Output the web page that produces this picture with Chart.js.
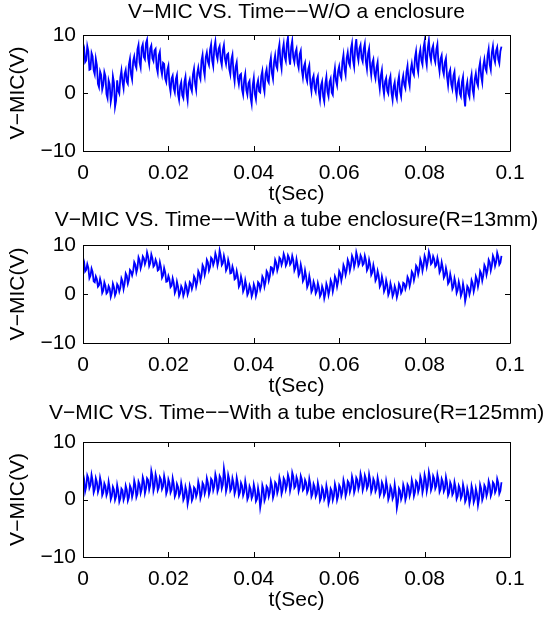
<!DOCTYPE html>
<html>
<head>
<meta charset="utf-8">
<script src="https://cdn.jsdelivr.net/npm/chart.js@4.4.1/dist/chart.umd.min.js"></script>
<style>
  html, body { margin: 0; padding: 0; background: #fff; }
  #figure { position: relative; width: 555px; height: 622px; overflow: hidden; }
  #figure canvas { position: absolute; left: 0; }
</style>
</head>
<body>
<div id="figure"></div>
<script>
const timeStep = 0.00025 // шаг отсчётов, сек

// V-MIC, без корпуса
const vNoEnclosure = [
  8.6, 7.9, 5.3, 5.6, 8.1, 7.2, 4.0, 4.1, 6.9, 6.3,
  3.9, 3.2, 5.9, 4.8, 1.6, 1.0, 3.7, 3.1, 0.6, 1.4,
  3.6, 2.9, -0.2, -0.9, 2.2, 1.5, -1.5, -0.4, 2.9, 1.8,
  -2.4, -1.3, 2.2, 0.4, -0.1, 2.7, 3.9, 1.9, 0.8, 3.3,
  4.0, 2.0, 1.6, 4.9, 5.9, 3.2, 2.3, 5.5, 6.3, 4.8,
  4.3, 7.5, 8.3, 5.3, 4.4, 7.8, 8.4, 6.2, 5.8, 8.6,
  9.2, 6.0, 4.9, 7.7, 8.2, 6.0, 5.5, 7.3, 7.6, 4.4,
  3.5, 6.5, 7.1, 4.2, 3.2, 5.2, 5.0, 2.5, 1.9, 4.0,
  4.7, 1.4, 0.2, 2.5, 3.0, 0.8, 0.1, 2.4, 3.1, -0.2,
  -1.2, 1.2, 1.9, -0.4, -0.9, 1.9, 2.8, 0.0, -1.3, 1.6,
  2.3, 0.9, 0.3, 3.2, 4.2, 1.6, 0.5, 3.4, 4.4, 3.0,
  2.4, 5.6, 6.6, 4.1, 3.0, 6.2, 7.0, 5.4, 4.8, 7.5,
  8.4, 5.6, 4.6, 7.8, 8.9, 6.6, 5.8, 7.6, 8.1, 5.7,
  4.8, 7.4, 8.3, 5.9, 5.0, 6.6, 6.8, 4.1, 3.2, 5.8,
  6.6, 3.4, 2.0, 4.5, 5.3, 2.6, 1.5, 3.1, 3.3, 0.6,
  -0.3, 2.3, 3.3, 0.5, -0.3, 1.7, 2.1, -0.8, -1.9, 1.3,
  2.6, -0.2, -1.1, 1.4, 2.2, 0.3, 0.1, 2.9, 3.8, 1.2,
  0.2, 3.3, 4.1, 2.2, 1.8, 5.0, 6.1, 3.4, 2.4, 5.4,
  6.5, 4.7, 4.2, 7.3, 8.4, 5.4, 4.2, 7.4, 8.5, 6.2,
  5.5, 8.5, 9.6, 6.3, 4.9, 7.9, 9.0, 6.1, 5.3, 7.0,
  7.6, 5.1, 4.3, 6.7, 7.3, 4.0, 2.7, 4.6, 5.2, 2.7,
  2.0, 4.1, 4.8, 1.6, 0.3, 2.4, 3.0, 0.8, 0.2, 2.3,
  2.9, 0.0, -1.2, 1.3, 2.0, -0.6, -1.5, 1.6, 2.8, 0.2,
  -0.6, 1.9, 2.5, 0.1, -0.3, 2.9, 4.3, 2.1, 1.3, 3.8,
  4.6, 3.0, 2.5, 5.4, 6.6, 4.1, 3.1, 6.0, 7.0, 5.2,
  4.7, 7.6, 8.6, 5.6, 4.5, 7.9, 9.3, 6.6, 5.6, 7.7,
  8.3, 6.0, 5.4, 7.6, 8.5, 5.4, 4.1, 6.8, 7.7, 4.6,
  3.1, 5.2, 5.8, 3.4, 2.5, 4.4, 5.3, 2.2, 0.7, 3.0,
  4.0, 1.1, -0.2, 2.0, 2.6, 0.4, -0.1, 2.2, 2.9, 0.0,
  -1.2, 1.1, 1.9, -0.3, -1.0, 1.8, 2.9, 0.3, -0.6, 2.0,
  3.0, 1.4, 0.8, 3.6, 4.7, 2.2, 1.2, 4.0, 5.1, 3.6,
  3.1, 6.1, 7.2, 4.6, 3.6, 6.5, 7.5, 5.6, 4.9, 7.8,
  8.9, 6.0, 4.8, 7.8, 9.1, 6.5, 5.6, 7.6, 8.2, 6.0,
  5.3, 7.5, 8.4, 5.1, 3.7, 5.9, 6.5, 4.0, 3.2, 5.3,
  6.0, 2.8, 1.3, 3.4, 4.0, 1.5, 0.7, 3.0, 3.7, 0.7,
  -0.5, 1.6, 2.3, -0.1, -0.6, 1.9, 2.8, -0.7, -2.3, 0.9,
  1.9, -0.1, -0.7, 2.2, 3.2, 0.6, -0.4, 2.4, 3.4, 1.8,
  1.2, 4.2, 5.3, 2.9, 1.8, 4.7, 5.8, 4.2, 3.7, 6.5,
  7.6, 4.9, 4.0, 7.0, 8.1, 6.0, 5.3, 7.3, 7.9, 5.8,
  5.1, 7.2, 8.0
]

// V-MIC, трубка R=13mm
const vTube13 = [
  7.4, 6.6, 4.6, 4.9, 6.1, 5.3, 3.2, 3.7, 5.2, 4.5,
  2.6, 2.4, 3.6, 3.0, 1.5, 1.8, 3.1, 2.2, 0.2, 0.7,
  2.4, 1.7, 0.1, 0.4, 1.6, 1.1, -0.6, 0.2, 2.1, 1.4,
  -0.3, 0.3, 2.0, 1.6, 0.5, 1.3, 3.2, 2.6, 1.0, 2.1,
  4.2, 3.7, 2.1, 2.9, 4.9, 4.6, 3.8, 4.7, 6.5, 6.0,
  4.4, 5.3, 7.5, 6.9, 5.2, 6.0, 7.7, 7.3, 6.1, 6.8,
  8.5, 7.6, 5.7, 6.3, 8.1, 7.3, 5.6, 5.9, 7.0, 6.4,
  4.8, 5.0, 6.5, 5.5, 3.3, 3.8, 5.3, 4.4, 2.5, 2.6,
  3.7, 3.0, 1.4, 1.7, 3.2, 2.3, 0.2, 0.8, 2.5, 1.5,
  -0.4, 0.2, 1.6, 1.1, -0.4, 0.3, 2.1, 1.5, -0.1, 0.6,
  2.4, 2.1, 1.0, 1.8, 3.6, 3.1, 1.5, 2.5, 4.7, 4.2,
  2.7, 3.7, 5.9, 5.4, 3.9, 4.9, 7.0, 6.5, 4.8, 5.5,
  7.4, 7.1, 5.9, 6.6, 8.3, 7.5, 5.8, 6.8, 8.9, 7.9,
  5.9, 6.3, 7.8, 6.8, 4.8, 5.3, 7.0, 6.1, 4.2, 4.3,
  5.6, 4.8, 3.0, 3.2, 4.7, 3.6, 1.5, 2.0, 3.6, 2.6,
  0.5, 1.1, 2.8, 1.7, -0.2, 0.3, 1.8, 1.2, -0.5, 0.2,
  2.0, 1.3, -0.4, 0.5, 2.4, 2.1, 0.9, 1.7, 3.6, 3.1,
  1.5, 2.5, 4.7, 4.3, 2.7, 3.6, 5.5, 5.4, 4.3, 5.1,
  7.0, 6.4, 4.8, 5.6, 7.4, 7.1, 5.9, 6.6, 8.2, 7.5,
  5.8, 6.3, 7.9, 7.4, 6.0, 6.4, 7.8, 6.9, 4.8, 5.4,
  7.1, 5.9, 3.8, 4.3, 6.0, 4.9, 2.6, 3.1, 4.8, 3.6,
  1.4, 2.0, 3.7, 2.5, 0.4, 0.9, 2.5, 1.8, 0.1, 0.6,
  2.2, 1.3, -0.5, 0.0, 1.6, 0.9, -0.9, 0.1, 2.1, 1.4,
  -0.2, 0.8, 2.8, 2.2, 0.5, 1.6, 3.6, 3.0, 1.5, 2.6,
  4.7, 4.2, 2.7, 3.8, 5.9, 5.3, 3.9, 4.9, 7.0, 6.4,
  4.8, 5.8, 7.8, 7.2, 5.5, 6.4, 8.5, 7.6, 5.8, 6.3,
  7.9, 7.4, 5.9, 6.2, 7.8, 6.9, 4.8, 5.3, 7.0, 6.0,
  3.9, 4.4, 5.9, 4.8, 2.7, 3.2, 4.7, 3.7, 1.5, 2.0,
  3.6, 2.5, 0.5, 1.1, 2.8, 1.8, -0.2, 0.4, 2.2, 1.3,
  -0.5, 0.1, 1.6, 0.9, -0.7, 0.2, 2.1, 1.6, 0.2, 0.7,
  2.3, 2.1, 1.0, 1.7, 3.5, 3.0, 1.6, 2.6, 4.6, 4.2,
  2.8, 3.8, 5.8, 5.4, 4.0, 5.0, 7.1, 6.4, 4.7, 5.8,
  7.8, 7.1, 5.5, 6.6, 8.6, 7.8, 6.1, 6.4, 7.7, 7.1,
  5.6, 5.9, 7.4, 6.4, 4.4, 4.9, 6.5, 5.4, 3.3, 3.8,
  5.3, 4.2, 2.1, 2.5, 4.1, 3.0, 1.0, 1.5, 3.2, 2.2,
  0.2, 0.8, 2.5, 1.5, -0.4, 0.3, 2.1, 0.9, -1.5, -0.4,
  1.6, 1.2, -0.1, 0.8, 2.8, 2.2, 0.5, 1.5, 3.6, 3.0,
  1.5, 2.6, 4.7, 4.2, 2.7, 3.8, 5.9, 5.4, 3.9, 4.9,
  7.0, 6.5, 4.8, 5.8, 7.8, 7.2, 5.7, 6.5, 8.4, 7.6,
  6.0, 6.4, 7.8
]

// V-MIC, трубка R=125mm
const vTube125 = [
  4.5, 3.6, 1.4, 2.2, 4.2, 3.7, 2.0, 2.5, 4.3, 3.3,
  1.2, 1.8, 3.7, 3.0, 1.3, 2.0, 3.8, 2.9, 0.7, 1.2,
  2.8, 2.3, 0.7, 1.3, 3.1, 2.0, 0.0, 0.6, 2.2, 1.7,
  -0.1, 0.5, 2.5, 1.5, -0.4, 0.2, 1.9, 1.6, -0.1, 0.5,
  2.4, 1.7, -0.2, 0.4, 2.4, 1.9, 0.4, 1.2, 3.3, 2.5,
  0.4, 1.0, 3.1, 2.6, 1.1, 1.8, 3.9, 3.2, 1.1, 1.9,
  3.7, 3.4, 1.7, 2.5, 5.0, 4.1, 1.5, 2.3, 4.4, 3.6,
  1.6, 2.1, 3.9, 3.5, 1.8, 2.3, 4.1, 3.1, 1.0, 1.6,
  3.5, 2.9, 1.2, 1.7, 3.7, 2.7, 0.5, 1.0, 2.7, 2.2,
  0.6, 1.1, 2.9, 1.9, -0.1, 0.4, 2.2, 1.4, -0.8, 0.2,
  2.4, 1.7, -0.2, 0.3, 2.1, 1.8, 0.5, 1.1, 3.1, 2.3,
  0.2, 0.9, 2.9, 2.5, 1.0, 1.7, 3.7, 2.9, 0.9, 1.6,
  3.6, 3.3, 1.6, 2.3, 4.4, 3.6, 1.4, 2.0, 4.1, 3.7,
  1.9, 2.6, 5.4, 4.1, 1.4, 2.2, 4.3, 3.5, 1.5, 1.9,
  3.7, 2.9, 1.0, 1.7, 3.8, 2.8, 0.7, 1.2, 2.9, 2.4,
  0.7, 1.3, 3.2, 2.1, 0.0, 0.5, 2.3, 1.8, 0.2, 0.7,
  2.6, 1.7, -0.3, 0.1, 2.0, 0.9, -1.4, -0.2, 2.5, 1.8,
  -0.2, 0.4, 2.3, 2.0, 0.5, 1.2, 3.2, 2.4, 0.3, 1.0,
  3.0, 2.7, 1.1, 1.8, 3.8, 3.0, 1.0, 1.7, 3.7, 3.3,
  1.7, 2.4, 4.3, 3.6, 1.5, 2.4, 4.7, 4.0, 2.0, 2.3,
  3.9, 3.3, 1.4, 2.1, 4.1, 3.5, 1.6, 1.9, 3.4, 2.9,
  1.2, 1.7, 3.6, 2.6, 0.5, 1.0, 2.7, 2.2, 0.5, 1.0,
  2.9, 1.9, -0.2, 0.3, 2.1, 1.6, 0.0, 0.5, 2.4, 1.4,
  -0.7, 0.0, 1.9, 1.5, -0.1, 0.6, 2.7, 1.9, -0.1, 0.6,
  2.5, 2.1, 0.6, 1.3, 3.4, 2.6, 0.6, 1.3, 3.2, 2.9,
  1.3, 2.0, 4.0, 3.2, 1.2, 1.9, 3.8, 3.4, 1.8, 2.5,
  4.5, 3.7, 1.6, 2.3, 4.2, 3.6, 1.9, 2.4, 4.4, 3.4,
  1.3, 1.9, 3.6, 3.1, 1.4, 1.9, 3.8, 2.8, 0.7, 1.2,
  3.0, 2.5, 0.7, 1.2, 3.2, 2.1, 0.0, 0.6, 2.3, 1.8,
  0.1, 0.6, 2.6, 1.2, -1.5, -0.4, 1.9, 1.5, 0.0, 0.6,
  2.6, 1.9, -0.1, 0.6, 2.6, 2.2, 0.6, 1.3, 3.4, 2.6,
  0.6, 1.3, 3.2, 2.9, 1.3, 2.0, 4.0, 3.3, 1.2, 2.1,
  4.3, 3.5, 1.4, 2.4, 4.8, 3.9, 1.6, 2.2, 4.1, 3.6,
  1.9, 2.4, 4.3, 3.4, 1.3, 1.8, 3.6, 3.1, 1.4, 1.9,
  3.9, 2.9, 0.7, 1.2, 3.0, 2.5, 0.8, 1.2, 3.0, 2.1,
  0.1, 0.6, 2.4, 1.9, 0.2, 0.7, 2.6, 1.7, -0.4, 0.1,
  1.9, 1.1, -0.7, 0.2, 2.4, 1.6, -0.5, 0.1, 1.9, 1.0,
  -1.0, 0.1, 2.6, 1.9, -0.1, 0.5, 2.5, 2.1, 0.6, 1.3,
  3.2, 2.5, 0.6, 1.2, 3.0, 2.7, 1.2, 1.7, 3.6, 2.9,
  1.0, 1.5, 3.0
]

const panelTitles = [
  'V−MIC VS. Time−−W/O a enclosure',
  'V−MIC VS. Time−−With a tube enclosure(R=13mm)',
  'V−MIC VS. Time−−With a tube enclosure(R=125mm)'
]
const xTickValues = [0, 0.02, 0.04, 0.06, 0.08, 0.1]
const xTickLabels = ['0', '0.02', '0.04', '0.06', '0.08', '0.1']
const yTickValues = [-10, 0, 10]
const yTickLabels = ['−10', '0', '10']
const xAxisTitle = 't(Sec)'
const yAxisTitle = 'V−MIC(V)'

const FONT_FAMILY = "'Liberation Sans', Arial, Helvetica, sans-serif"
const FONT_SIZE = 21
const LINE_H = FONT_SIZE * 1.2
Chart.defaults.color = '#000'
Chart.defaults.font.family = FONT_FAMILY
Chart.defaults.font.size = FONT_SIZE

// положение каждого графика на листе
const panels = [
  { values: vNoEnclosure, top: 0, height: 215, plotTop: 35, titleY: 12, xHeight: 64 },
  { values: vTube13, top: 200, height: 210, plotTop: 45, titleY: 20, xHeight: 67 },
  { values: vTube125, top: 398, height: 224, plotTop: 44, titleY: 15, xHeight: 65 }
]

// рамка осей с внутренними засечками, как в MATLAB
const axesBox = {
  id: 'axesBox',
  afterDatasetsDraw (chart) {
    const { ctx, chartArea: a, scales: { x, y } } = chart
    const len = 5
    ctx.save()
    ctx.strokeStyle = '#000'
    ctx.lineWidth = 1
    ctx.beginPath()
    ctx.rect(a.left + 0.5, a.top + 0.5, a.right - a.left, a.bottom - a.top)
    xTickValues.forEach(v => {
      const px = Math.round(x.getPixelForValue(v)) + 0.5
      ctx.moveTo(px, a.bottom)
      ctx.lineTo(px, a.bottom - len)
      ctx.moveTo(px, a.top)
      ctx.lineTo(px, a.top + len)
    })
    yTickValues.forEach(v => {
      const py = Math.round(y.getPixelForValue(v)) + 0.5
      ctx.moveTo(a.left, py)
      ctx.lineTo(a.left + len, py)
      ctx.moveTo(a.right, py)
      ctx.lineTo(a.right - len, py)
    })
    ctx.stroke()
    ctx.restore()
  }
}

// заголовок по центру области графика, без сжатия по ширине
const panelTitle = {
  id: 'panelTitle',
  afterDraw (chart, args, opts) {
    const { ctx, chartArea: a } = chart
    ctx.save()
    ctx.font = `${FONT_SIZE}px ${FONT_FAMILY}`
    ctx.fillStyle = '#000'
    ctx.textAlign = 'center'
    ctx.textBaseline = 'middle'
    ctx.fillText(opts.text, (a.left + a.right) / 2, opts.y)
    ctx.restore()
  }
}

const figure = document.getElementById('figure')

panels.forEach((p, n) => {
  const canvas = document.createElement('canvas')
  canvas.width = 555
  canvas.height = p.height
  canvas.style.top = p.top + 'px'
  figure.appendChild(canvas)

  new Chart(canvas, {
    type: 'line',
    data: {
      datasets: [{
        data: p.values.map((v, i) => ({ x: i * timeStep, y: v })),
        borderColor: '#0000ff',
        borderWidth: 1.8,
        pointRadius: 0,
        tension: 0
      }]
    },
    options: {
      responsive: false,
      animation: false,
      devicePixelRatio: 1,
      events: [],
      layout: { padding: { left: 0, right: 45, top: p.plotTop, bottom: 0 } },
      plugins: {
        legend: { display: false },
        tooltip: { enabled: false },
        title: { display: false },
        panelTitle: { text: panelTitles[n], y: p.titleY }
      },
      scales: {
        x: {
          type: 'linear',
          min: 0,
          max: 0.1,
          grid: { display: false, drawTicks: false },
          border: { display: false },
          afterBuildTicks: s => { s.ticks = xTickValues.map(v => ({ value: v })) },
          afterFit: s => { s.height = p.xHeight },
          ticks: { padding: 22 - LINE_H / 2, maxRotation: 0, autoSkip: false, callback: (v, i) => xTickLabels[i] },
          title: { display: true, text: xAxisTitle, padding: { top: 0, bottom: p.xHeight - 43 - LINE_H / 2 } }
        },
        y: {
          type: 'linear',
          min: -10,
          max: 10,
          grid: { display: false, drawTicks: false },
          border: { display: false },
          afterBuildTicks: s => { s.ticks = yTickValues.map(v => ({ value: v })) },
          afterFit: s => { s.width = 83 },
          ticks: { padding: 7, callback: (v, i) => yTickLabels[i] },
          title: { display: true, text: yAxisTitle, padding: { top: 18 - LINE_H / 2, bottom: 0 } }
        }
      }
    },
    plugins: [axesBox, panelTitle]
  })
})
</script>
</body>
</html>
